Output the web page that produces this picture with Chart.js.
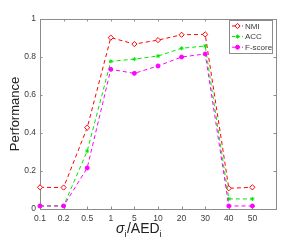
<!DOCTYPE html>
<html lang="en">
<head>
<meta charset="UTF-8">
<title>Performance</title>
<script src="https://cdn.jsdelivr.net/npm/chart.js"></script>
<style>
  body { margin: 0; background: #fff; }
  #wrap { position: relative; width: 305px; height: 245px; }
</style>
</head>
<body>
<div id="wrap"><canvas id="perfChart" width="305" height="245"></canvas></div>
<script>
// data
const categories = ['0.1', '0.2', '0.5', '1', '5', '10', '20', '30', '40', '50'];
const nmi    = [0.114, 0.113, 0.428, 0.902, 0.868, 0.889, 0.917, 0.919, 0.109, 0.114];
const acc    = [0.016, 0.016, 0.305, 0.777, 0.789, 0.805, 0.846, 0.858, 0.053, 0.053];
const fscore = [0.016, 0.016, 0.216, 0.735, 0.714, 0.753, 0.800, 0.816, 0.016, 0.016];
const seriesNames = ['NMI', 'ACC', 'F-score'];
const yTicks = [0, 0.2, 0.4, 0.6, 0.8, 1];
const yLabel = 'Performance';

const FONT = '"Liberation Sans", Arial, sans-serif';
const AXIS_COLOR = '#8c8c8c';
const TEXT_COLOR = '#3a3a3a';

function toPoints(vals) {
    return vals.map((v, i) => ({ x: i, y: v }));
}

// box, inward ticks, legend and x label drawn matlab-style
const matlabAxes = {
    id: 'matlabAxes',
    beforeDatasetsDraw(chart) {
        const ctx = chart.ctx;
        const a = chart.chartArea;
        const xs = chart.scales.x, ys = chart.scales.y;
        ctx.save();
        ctx.strokeStyle = AXIS_COLOR;
        ctx.lineWidth = 1;
        ctx.setLineDash([]);
        ctx.strokeRect(Math.round(a.left) + 0.5, Math.round(a.top) + 0.5,
            Math.round(a.right - a.left), Math.round(a.bottom - a.top));
        ctx.beginPath();
        categories.forEach((c, i) => {
            const px = Math.round(xs.getPixelForValue(i)) + 0.5;
            ctx.moveTo(px, a.bottom); ctx.lineTo(px, a.bottom - 2.5);
            ctx.moveTo(px, a.top); ctx.lineTo(px, a.top + 2.5);
        });
        yTicks.forEach(t => {
            const py = Math.round(ys.getPixelForValue(t)) + 0.5;
            ctx.moveTo(a.left, py); ctx.lineTo(a.left + 2.5, py);
            ctx.moveTo(a.right, py); ctx.lineTo(a.right - 2.5, py);
        });
        ctx.stroke();
        ctx.restore();
    },
    afterDraw(chart) {
        const ctx = chart.ctx;
        ctx.save();
        // x axis label: sigma_i / AED_i
        ctx.fillStyle = '#222';
        ctx.textBaseline = 'alphabetic';
        ctx.textAlign = 'left';
        let x = 116, y = 233;
        ctx.font = 'italic 14px ' + FONT;
        ctx.fillText('σ', x, y); x += ctx.measureText('σ').width;
        ctx.font = '9px ' + FONT;
        ctx.fillText('i', x, y + 4); x += ctx.measureText('i').width + 0.5;
        ctx.font = '14px ' + FONT;
        ctx.fillText('/AED', x, y); x += ctx.measureText('/AED').width;
        ctx.font = '9px ' + FONT;
        ctx.fillText('i', x, y + 4);

        // legend
        const lx = 229.5, ly = 20.5, lw = 43, lh = 33;
        ctx.fillStyle = '#fff';
        ctx.fillRect(lx, ly, lw, lh);
        ctx.strokeStyle = AXIS_COLOR;
        ctx.lineWidth = 1;
        ctx.strokeRect(lx, ly, lw, lh);
        chart.data.datasets.forEach((ds, i) => {
            const ry = 26 + i * 10.6;
            ctx.strokeStyle = ds.borderColor;
            ctx.lineWidth = 1;
            ctx.setLineDash([3, 2]);
            ctx.beginPath();
            ctx.moveTo(232, ry); ctx.lineTo(243, ry);
            ctx.stroke();
            ctx.setLineDash([]);
            ctx.fillStyle = ds.pointBackgroundColor;
            ctx.strokeStyle = ds.pointBorderColor;
            Chart.helpers.drawPoint(ctx, {
                pointStyle: ds.pointStyle, radius: ds.pointRadius,
                borderWidth: ds.pointBorderWidth, rotation: 0
            }, 237.5, ry);
            ctx.fillStyle = TEXT_COLOR;
            ctx.font = '8px ' + FONT;
            ctx.textBaseline = 'middle';
            ctx.fillText(ds.label, 245, ry + 0.5);
        });
        ctx.restore();
    }
};

const commonLine = {
    borderWidth: 1,
    borderDash: [4, 3],
    fill: false,
    tension: 0,
    clip: false
};

new Chart(document.getElementById('perfChart').getContext('2d'), {
    type: 'line',
    data: {
        datasets: [
            Object.assign({}, commonLine, {
                label: seriesNames[0], data: toPoints(nmi), order: 3,
                borderColor: '#ff0000', pointBorderColor: '#ff0000', pointBackgroundColor: '#ffffff',
                pointStyle: 'rectRot', pointRadius: 2.6, pointBorderWidth: 1
            }),
            Object.assign({}, commonLine, {
                label: seriesNames[1], data: toPoints(acc), order: 2,
                borderColor: '#00e600', pointBorderColor: '#00e600', pointBackgroundColor: '#00e600',
                pointStyle: 'star', pointRadius: 2, pointBorderWidth: 1
            }),
            Object.assign({}, commonLine, {
                label: seriesNames[2], data: toPoints(fscore), order: 1,
                borderColor: '#ff00ff', pointBorderColor: '#ff00ff', pointBackgroundColor: '#ff00ff',
                pointStyle: 'circle', pointRadius: 2, pointBorderWidth: 1
            })
        ]
    },
    options: {
        responsive: false,
        animation: false,
        layout: { padding: { top: 19, right: 29, left: 0, bottom: 0 } },
        plugins: { legend: { display: false }, tooltip: { enabled: false } },
        scales: {
            x: {
                type: 'linear', min: 0, max: 10,
                grid: { display: false, drawTicks: false },
                border: { display: false },
                afterBuildTicks: s => { s.ticks = categories.map((c, i) => ({ value: i })); },
                afterFit: s => { s.height = 36; },
                ticks: {
                    padding: 5, color: TEXT_COLOR, font: { family: FONT, size: 8.5 },
                    maxRotation: 0, autoSkip: false,
                    callback: v => categories[v]
                }
            },
            y: {
                min: 0, max: 1,
                grid: { display: false, drawTicks: false },
                border: { display: false },
                afterBuildTicks: s => { s.ticks = yTicks.map(v => ({ value: v })); },
                afterFit: s => { s.width = 40; },
                ticks: {
                    padding: 4, color: TEXT_COLOR, font: { family: FONT, size: 8.5 },
                    callback: v => String(v)
                },
                title: {
                    display: true, text: yLabel, color: '#222',
                    font: { family: FONT, size: 13 }, padding: { top: 8, bottom: 0 }
                }
            }
        }
    },
    plugins: [matlabAxes]
});
</script>
</body>
</html>
